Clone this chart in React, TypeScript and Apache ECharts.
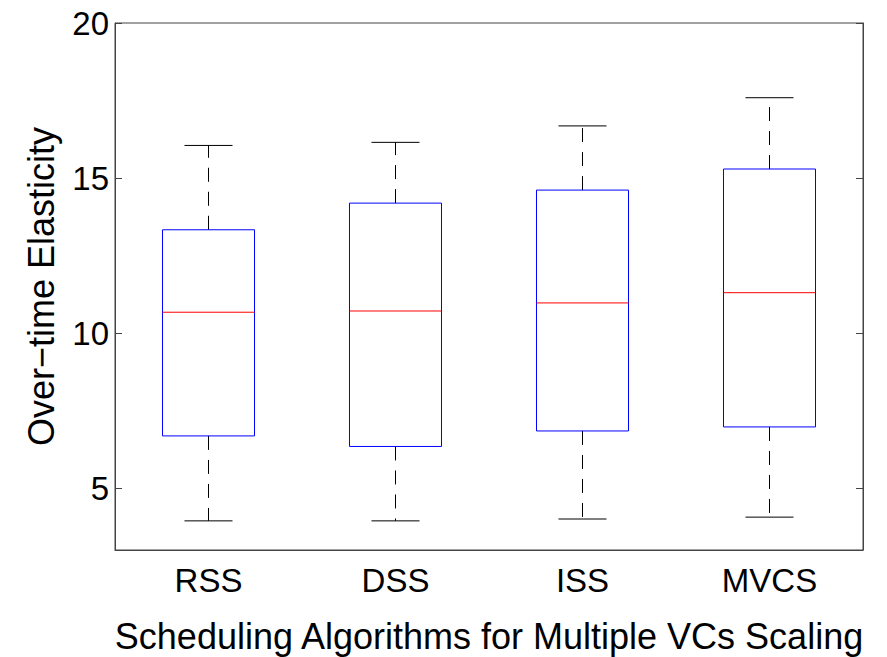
import React, { useEffect, useRef } from "react";
import * as echarts from "echarts";

const categories = ["RSS", "DSS", "ISS", "MVCS"];
const lowerWhisker = [3.94, 3.94, 4.0, 4.06];
const lowerQuartile = [6.68, 6.34, 6.84, 6.97];
const medians = [10.67, 10.71, 10.97, 11.3];
const upperQuartile = [13.33, 14.19, 14.61, 15.29];
const upperWhisker = [16.05, 16.15, 16.68, 17.59];
const yTicks = [5, 10, 15, 20];

const FONT = "'Liberation Sans', Arial, Helvetica, sans-serif";

export default function App() {
  const ref = useRef<HTMLDivElement>(null);
  useEffect(() => {
    if (!ref.current) return;
    const chart = echarts.init(ref.current, null, { renderer: "svg" });
    const data = categories.map((_, i) => [
      i,
      lowerWhisker[i],
      lowerQuartile[i],
      medians[i],
      upperQuartile[i],
      upperWhisker[i],
    ]);
    const axisColor = "#444";
    chart.setOption({
      animation: false,
      backgroundColor: "#fff",
      grid: {
        left: 115,
        right: 24,
        top: 23,
        bottom: 107,
        show: true,
        borderColor: axisColor,
        borderWidth: 1,
        outerBoundsMode: "none",
        containLabel: false,
      },
      xAxis: {
        type: "category",
        data: categories,
        axisTick: { show: false },
        axisLine: { lineStyle: { color: axisColor } },
        axisLabel: {
          color: "#000",
          fontSize: 33,
          fontFamily: FONT,
          margin: 14,
        },
        name: "Scheduling Algorithms for Multiple VCs Scaling",
        nameLocation: "middle",
        nameGap: 68,
        nameTextStyle: { color: "#000", fontSize: 36, fontFamily: FONT },
      },
      yAxis: [
        {
          type: "value",
          min: 3,
          max: 20,
          splitLine: { show: false },
          axisLine: { show: true, lineStyle: { color: axisColor } },
          axisTick: {
            show: true,
            inside: true,
            length: 7,
            customValues: yTicks,
            lineStyle: { color: axisColor },
          },
          axisLabel: {
            color: "#000",
            fontSize: 33,
            fontFamily: FONT,
            margin: 6,
            customValues: yTicks,
          },
          name: "Over\u2212time Elasticity",
          nameLocation: "middle",
          nameGap: 56,
          nameTextStyle: { color: "#000", fontSize: 36, fontFamily: FONT },
        },
        {
          type: "value",
          position: "right",
          min: 3,
          max: 20,
          splitLine: { show: false },
          axisLine: { show: true, lineStyle: { color: axisColor } },
          axisTick: {
            show: true,
            inside: true,
            length: 7,
            customValues: yTicks,
            lineStyle: { color: axisColor },
          },
          axisLabel: { show: false },
        },
      ],
      series: [
        {
          type: "custom",
          xAxisIndex: 0,
          yAxisIndex: 0,
          encode: { x: 0, y: [1, 2, 3, 4, 5] },
          data,
          renderItem: (params: any, api: any) => {
            const x = api.value(0);
            const low = api.coord([x, api.value(1)]);
            const q1 = api.coord([x, api.value(2)]);
            const med = api.coord([x, api.value(3)]);
            const q3 = api.coord([x, api.value(4)]);
            const high = api.coord([x, api.value(5)]);
            const band = api.size([1, 0])[0];
            const bw = band * 0.492;
            const cw = band * 0.257;
            const cx = low[0];
            const dash = { stroke: "#000", lineWidth: 1, lineDash: [14, 10], fill: null };
            const solid = { stroke: "#000", lineWidth: 1, fill: null };
            return {
              type: "group",
              children: [
                {
                  type: "line",
                  shape: { x1: cx, y1: q3[1], x2: cx, y2: high[1] },
                  style: dash,
                },
                {
                  type: "line",
                  shape: { x1: cx, y1: q1[1], x2: cx, y2: low[1] },
                  style: dash,
                },
                {
                  type: "line",
                  shape: { x1: cx - cw / 2, y1: high[1], x2: cx + cw / 2, y2: high[1] },
                  style: solid,
                },
                {
                  type: "line",
                  shape: { x1: cx - cw / 2, y1: low[1], x2: cx + cw / 2, y2: low[1] },
                  style: solid,
                },
                {
                  type: "rect",
                  shape: { x: cx - bw / 2, y: q3[1], width: bw, height: q1[1] - q3[1] },
                  style: { stroke: "#0000ff", lineWidth: 1, fill: "none" },
                },
                {
                  type: "line",
                  shape: { x1: cx - bw / 2, y1: med[1], x2: cx + bw / 2, y2: med[1] },
                  style: { stroke: "#ff0000", lineWidth: 1 },
                },
              ],
            };
          },
        },
      ],
    });
    return () => chart.dispose();
  }, []);
  return (
    <div
      ref={ref}
      style={{ position: "fixed", left: 0, top: 0, width: 887, height: 657, background: "#fff" }}
    />
  );
}
